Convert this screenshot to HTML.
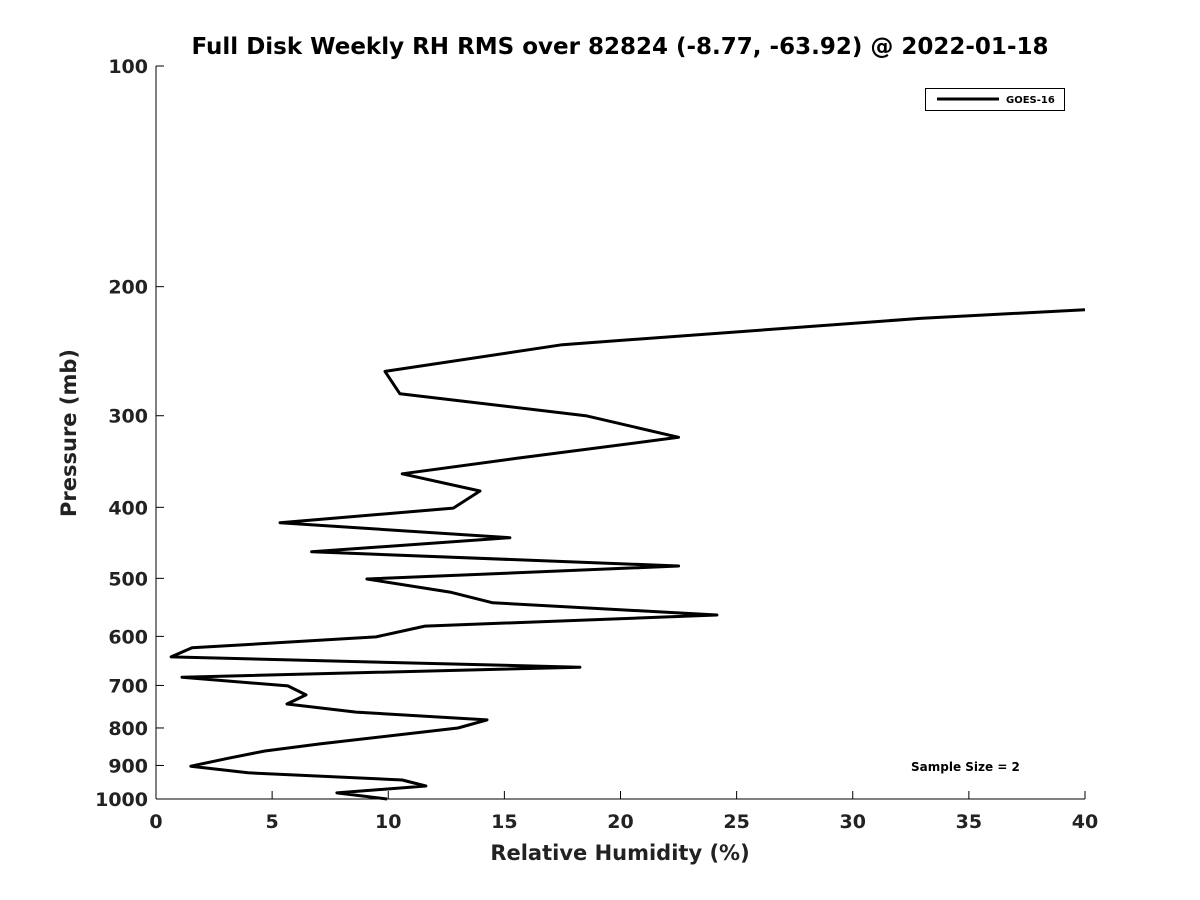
<!DOCTYPE html>
<html><head><meta charset="utf-8"><style>
body{margin:0;background:#fff;}
svg{display:block;font-family:"DejaVu Sans","Liberation Sans",sans-serif;}
</style></head><body>
<svg id="chart" width="1200" height="900">
<text x="620" y="54" text-anchor="middle" font-size="23" font-weight="bold" fill="#000">Full Disk Weekly RH RMS over 82824 (-8.77, -63.92) @ 2022-01-18</text>
<g id="axes"></g>
<path id="line" fill="none" stroke="#000" stroke-width="3" stroke-linejoin="round"/>
<g>
<rect x="925.5" y="88.5" width="139" height="22" fill="#fff" stroke="#000" stroke-width="1"/>
<line x1="937" y1="99" x2="999" y2="99" stroke="#000" stroke-width="3"/>
<text x="1006" y="103" font-size="10" font-weight="bold">GOES-16</text>
</g>
<text x="911" y="771" font-size="12" font-weight="bold">Sample Size = 2</text>
<text x="620" y="860" text-anchor="middle" font-size="21" font-weight="bold" fill="#222">Relative Humidity (%)</text>
<text transform="translate(76,433) rotate(-90)" text-anchor="middle" font-size="21" font-weight="bold" fill="#222">Pressure (mb)</text>
</svg>
<script>
const rhValues=[40,32.9,17.5,9.86,10.5,18.5,22.5,15.5,10.6,13.95,12.8,5.34,15.24,6.7,22.5,9.08,12.66,14.5,24.15,11.58,9.47,1.55,0.65,18.25,1.12,5.68,6.46,5.64,8.61,14.25,13.0,7.06,4.69,3.1,1.5,3.96,10.6,11.62,7.79,9.95];
const pressures=[215,221,240,261,280,300,321,343,360,380,401,420,440,460,481,501,522,540,561,581,601,622,640,661,682,701,721,742,761,780,800,841,860,880,902,921,942,960,981,1000];
const xTicks=[0,5,10,15,20,25,30,35,40];
const yTicks=[100,200,300,400,500,600,700,800,900,1000];
const X0=156,X1=1085,Y0=66,Y1=799;
const xs=v=>X0+(v-0)/(40-0)*(X1-X0);
const ys=p=>Y0+(Math.log10(p)-2)/(3-2)*(Y1-Y0);
const NS="http://www.w3.org/2000/svg";
const ax=document.getElementById('axes');
function mk(t,a){const e=document.createElementNS(NS,t);for(const k in a)e.setAttribute(k,a[k]);ax.appendChild(e);return e;}
let e=mk('line',{x1:X0,y1:Y0,x2:X0,y2:Y1,stroke:'#000','stroke-width':1});


e=mk('line',{x1:X0,y1:Y1,x2:X1,y2:Y1,stroke:'#000','stroke-width':1});


xTicks.forEach(v=>{const x=xs(v);
 mk('line',{x1:x,y1:Y1,x2:x,y2:Y1-8,stroke:'#000'});
 const t=mk('text',{x:x,y:Y1+29,'text-anchor':'middle','font-size':19,'font-weight':'bold',fill:'#222'});
 t.textContent=v;
 
 });
yTicks.forEach(v=>{const y=ys(v);
 mk('line',{x1:X0,y1:y,x2:X0+8,y2:y,stroke:'#000'});
 const t=mk('text',{x:X0-8,y:y+7,'text-anchor':'end','font-size':19,'font-weight':'bold',fill:'#222'});
 t.textContent=v;
 
 });
document.getElementById('line').setAttribute('d',rhValues.map((v,i)=>(i?'L':'M')+xs(v).toFixed(1)+','+ys(pressures[i]).toFixed(1)).join(''));
</script>
</body></html>
